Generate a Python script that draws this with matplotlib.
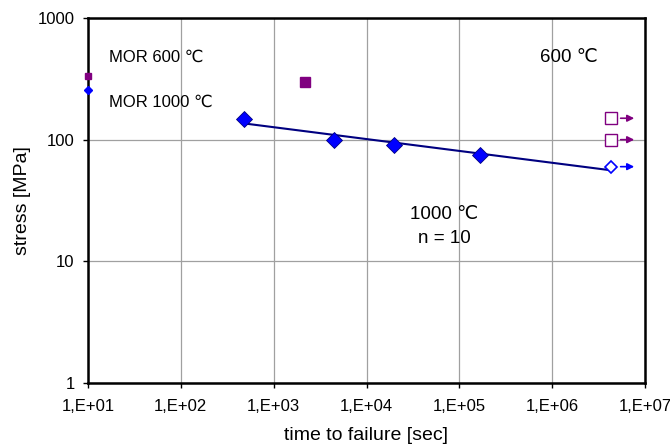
import matplotlib
matplotlib.use("Agg")
import matplotlib.pyplot as plt
import numpy as np

plt.rcParams['font.family'] = ['Liberation Sans', 'DejaVu Sans']

# creep tests at 1000 C (failed)
t_1000 = [480, 4480, 19800, 165000]
s_1000 = [148, 100, 90, 75]
# runout at 1000 C
t_1000_run = [4.3e6]
s_1000_run = [60]
# 600 C
t_600 = [2200]
s_600 = [300]
t_600_run = [4.3e6, 4.3e6]
s_600_run = [150, 100]
# MOR values plotted on the y axis
mor_t = [10]
mor_600 = [335]
mor_1000 = [255]
# fitted line, n = 10
trend_t = [480, 4.3e6]
trend_s = [136, 56]

xticks = [1e1, 1e2, 1e3, 1e4, 1e5, 1e6, 1e7]
xtick_labels = ['1,E+01', '1,E+02', '1,E+03', '1,E+04', '1,E+05', '1,E+06', '1,E+07']
yticks = [1, 10, 100, 1000]
ytick_labels = ['1', '10', '100', '1000']

blue = '#0000FF'
navy = '#000080'
purple = '#800080'

fig = plt.figure(figsize=(6.7, 4.48), dpi=100)
ax = fig.add_axes([88/670, 1 - 383/448, (645-88)/670, (383-18)/448])
ax.set_xscale('log')
ax.set_yscale('log')
ax.set_xlim(1e1, 1e7)
ax.set_ylim(1, 1000)

ax.grid(True, which='major', color='#a0a0a0', lw=0.9)
ax.set_axisbelow(True)

ax.plot(trend_t, trend_s, color=navy, lw=1.5, zorder=3)
ax.plot(t_1000, s_1000, ls='none', marker='D', ms=8, mfc=blue, mec=navy, mew=0.6, zorder=4)
ax.plot(t_1000_run, s_1000_run, ls='none', marker='D', ms=6.5, mfc='white', mec=blue, mew=1.2, zorder=4)
ax.plot(t_600, s_600, ls='none', marker='s', ms=7, mfc=purple, mec=purple, zorder=4)
ax.plot(t_600_run, s_600_run, ls='none', marker='s', ms=8, mfc='white', mec=purple, mew=1.0, zorder=4)
ax.plot(mor_t, mor_600, ls='none', marker='s', ms=4, mfc=purple, mec=purple, zorder=5, clip_on=False)
ax.plot(mor_t, mor_1000, ls='none', marker='D', ms=4, mfc=blue, mec=blue, zorder=5, clip_on=False)

# arrows for runouts
for s, c in [(s_600_run[0], purple), (s_600_run[1], purple), (s_1000_run[0], blue)]:
    ax.annotate('', xy=(8.2e6, s), xytext=(5.1e6, s),
                arrowprops=dict(arrowstyle='-|>', color=c, lw=1.2, mutation_scale=10))

ax.text(16.8, 477, 'MOR 600 \u2103', fontsize=12, va='center')
ax.text(16.8, 204, 'MOR 1000 \u2103', fontsize=12, va='center')
ax.text(7.4e5, 477, '600 \u2103', fontsize=13.5, va='center')
ax.text(6.85e4, 24.4, '1000 \u2103', fontsize=13.5, ha='center', va='center')
ax.text(6.85e4, 15.5, 'n = 10', fontsize=13.5, ha='center', va='center')

ax.set_xticks(xticks)
ax.set_xticklabels(xtick_labels, fontsize=12)
ax.set_yticks(yticks)
ax.set_yticklabels(ytick_labels, fontsize=12)
ax.minorticks_off()
ax.tick_params(direction='out', length=3.6, width=1)
ax.tick_params(axis='x', pad=8)
ax.tick_params(axis='y', pad=6)
for sp in ax.spines.values():
    sp.set_linewidth(1.8)

ax.set_xlabel('time to failure [sec]', fontsize=14, labelpad=9)
ax.set_ylabel('stress [MPa]', fontsize=14, labelpad=5)

plt.savefig('out.png', dpi=100)
